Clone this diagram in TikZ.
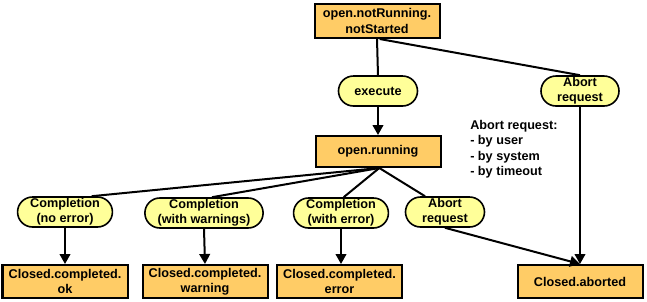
\documentclass[tikz,border=0pt]{standalone}
\usepackage{fontspec}
\setmainfont{Liberation Sans}
\usetikzlibrary{shapes.misc,arrows.meta}
\definecolor{boxorange}{HTML}{FFCC66}
\definecolor{evyellow}{HTML}{FFFF99}
\begin{document}
\begin{tikzpicture}[x=0.75pt,y=-0.75pt,
  font=\fontsize{9.5}{11.5}\selectfont\bfseries,
  state/.style={draw=black,line width=1.5pt,fill=boxorange,minimum width=125*0.75pt,minimum height=33*0.75pt,inner sep=1pt,align=center},
  event/.style={draw=black,line width=1.2pt,fill=evyellow,rounded rectangle,minimum height=30*0.75pt,inner sep=1pt,inner xsep=3pt,align=center},
  conn/.style={line width=1.5pt},
  arr/.style={line width=1.5pt,-{Triangle[length=7.5pt,width=8pt]}}]
\useasboundingbox[fill=white] (0,0) rectangle (647,301);
\node[state,minimum height=34*0.75pt] (top) at (377,21) {open.notRunning.\\notStarted};
\node[event,minimum width=87*0.75pt] (exec) at (378,91) {execute};
\node[event,minimum width=86*0.75pt] (ab1) at (580,91) {Abort\\request};
\node[state,minimum height=31*0.75pt] (run) at (378,151.5) {open.running};
\node[anchor=north west,align=left,inner sep=0pt] (note) at (470,120) {Abort request:\\- by user\\- by system\\- by timeout};
\node[event,minimum width=86*0.75pt] (c1) at (65,212) {Completion\\(no error)};
\node[event,minimum width=108*0.75pt] (c2) at (204,213) {Completion\\(with warnings)};
\node[event,minimum width=86*0.75pt] (c3) at (341,213) {Completion\\(with error)};
\node[event,minimum width=87*0.75pt] (ab2) at (445,212) {Abort\\request};
\node[state] (ok) at (65,281.5) {Closed.completed.\\ok};
\node[state] (warn) at (205,281.5) {Closed.completed.\\warning};
\node[state] (err) at (339.5,281.5) {Closed.completed.\\error};
\node[state] (abd) at (580,281.5) {Closed.aborted};
\draw[conn] (top.south) -- (exec.north);
\draw[conn] ([xshift=2]top.south) -- (ab1.north);
\draw[arr] (exec.south) -- (run.north);
\draw[arr] (ab1.south) -- (abd.north);
\draw[conn] ([xshift=1]run.south) -- ([xshift=20]c1.north);
\draw[conn] ([xshift=1]run.south) -- ([xshift=6]c2.north);
\draw[conn] ([xshift=1]run.south) -- ([xshift=2]c3.north);
\draw[conn] ([xshift=1]run.south) -- ([xshift=-15]ab2.north);
\draw[arr] (c1.south) -- (ok.north);
\draw[arr] (c2.south) -- (warn.north);
\draw[arr] (c3.south) -- (c3.south |- err.north);
\draw[arr] (ab2.south) -- (abd.north);
\end{tikzpicture}
\end{document}
